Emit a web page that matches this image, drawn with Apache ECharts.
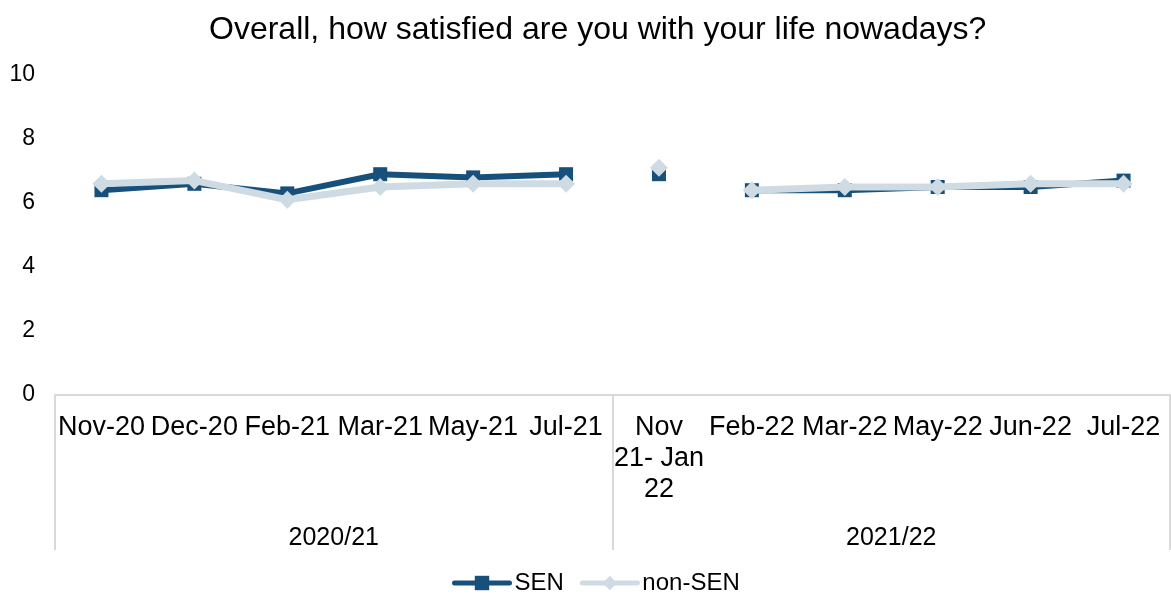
<!DOCTYPE html>
<html>
<head>
<meta charset="utf-8">
<script src="https://cdn.jsdelivr.net/npm/echarts@6/dist/echarts.min.js"></script>
<style>html,body{margin:0;padding:0;background:#fff}#c{width:1171px;height:598px}</style>
</head>
<body>
<div id="c"></div>
<script>
const categories = ['Nov-20','Dec-20','Feb-21','Mar-21','May-21','Jul-21','Nov 21- Jan 22','Feb-22','Mar-22','May-22','Jun-22','Jul-22'];
const groups = ['2020/21','2021/22'];
const senValues = [6.4,6.6,6.3,6.9,6.8,6.9,6.9,6.4,6.4,6.5,6.5,6.7];
const nonSenValues = [6.6,6.7,6.1,6.5,6.6,6.6,7.1,6.4,6.5,6.5,6.6,6.6];
const segments = [[0,5],[6,6],[7,11]];
const yTicks = [0,2,4,6,8,10];

const FONT = '"Liberation Sans", Arial, sans-serif';
const SEN_COLOR = '#17507a';
const NON_COLOR = '#cfdbe3';

function seg(values, s){
  return values.map((v,i)=> (i>=s[0] && i<=s[1]) ? v : null);
}
const series = [];
segments.forEach(s=>{
  series.push({name:'SEN',type:'line',data:seg(senValues,s),connectNulls:false,
    symbol:'rect',symbolSize:14,itemStyle:{color:SEN_COLOR},
    lineStyle:{color:SEN_COLOR,width:6},z:2,showAllSymbol:true});
});
segments.forEach(s=>{
  series.push({name:'non-SEN',type:'line',data:seg(nonSenValues,s),connectNulls:false,
    symbol:'diamond',symbolSize:18,itemStyle:{color:NON_COLOR},
    lineStyle:{color:NON_COLOR,width:7},z:3,showAllSymbol:true});
});

const chart = echarts.init(document.getElementById('c'));
chart.setOption({
  animation:false,
  title:{text:'Overall, how satisfied are you with your life nowadays?',left:204,top:9,
    textStyle:{fontFamily:FONT,fontSize:32,fontWeight:'normal',color:'#000'}},
  legend:{top:571,left:452,padding:0,itemWidth:55,itemHeight:18,itemGap:16,
    data:['SEN','non-SEN'],
    lineStyle:{width:5,cap:'round'},
    textStyle:{fontFamily:FONT,fontSize:24,color:'#000'}},
  grid:{left:55,right:1,top:75,bottom:203,containLabel:false},
  xAxis:[{
    type:'category',data:categories,boundaryGap:true,
    axisLine:{show:true,lineStyle:{color:'#d9d9d9',width:2}},
    axisTick:{show:false},
    axisLabel:{interval:0,margin:17,fontFamily:FONT,fontSize:27,color:'#000',lineHeight:31,
      formatter:v=> v==='Nov 21- Jan 22' ? 'Nov\n21- Jan\n22' : v}
  },{
    type:'category',data:groups,position:'bottom',boundaryGap:true,
    axisLine:{show:false},
    axisTick:{show:true,length:155,lineStyle:{color:'#d9d9d9',width:2}},
    axisLabel:{margin:131,fontFamily:FONT,fontSize:25,color:'#000',lineHeight:25}
  }],
  yAxis:{type:'value',min:yTicks[0],max:yTicks[yTicks.length-1],interval:2,
    splitLine:{show:false},axisLine:{show:false},axisTick:{show:false},
    axisLabel:{margin:20,fontFamily:FONT,fontSize:23,color:'#000'}},
  series:series
});
</script>
</body>
</html>
